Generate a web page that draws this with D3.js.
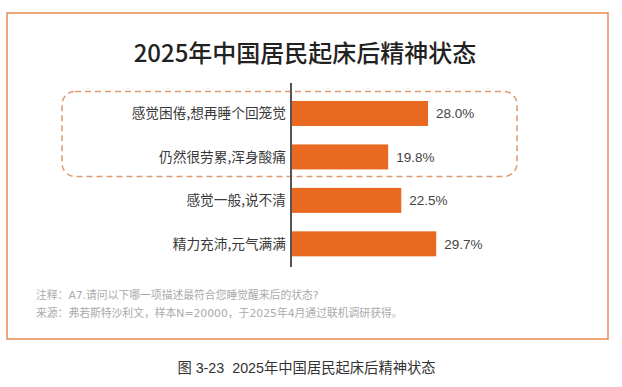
<!DOCTYPE html>
<html>
<head>
<meta charset="utf-8">
<script src="https://cdn.jsdelivr.net/npm/d3@7"></script>
<style>
  html, body { margin: 0; padding: 0; background: #fff; }
  svg { display: block; font-family: "Noto Sans CJK SC", "Noto Sans", sans-serif; }
  .cat-label { font-size: 13.7px; fill: #3a3a3a; }
  .val-label { font-size: 13.5px; fill: #444; font-family: "Liberation Sans", Arial, sans-serif; }
  .note { font-size: 10.8px; fill: #aaa; font-family: "DejaVu Sans", "Noto Sans CJK SC", sans-serif; }
  .caption { white-space: pre; font-family: "Liberation Sans", "Noto Sans CJK SC", sans-serif; }
</style>
</head>
<body>
<svg id="chart" width="622" height="387"></svg>
<script>
// data
var categories = ["感觉困倦,想再睡个回笼觉", "仍然很劳累,浑身酸痛", "感觉一般,说不清", "精力充沛,元气满满"];
var values = [28.0, 19.8, 22.5, 29.7];
var valueLabels = ["28.0%", "19.8%", "22.5%", "29.7%"];
var highlighted = ["感觉困倦,想再睡个回笼觉", "仍然很劳累,浑身酸痛"];

var title = "2025年中国居民起床后精神状态";
var notes = [
  "注释：A7.请问以下哪一项描述最符合您睡觉醒来后的状态?",
  "来源：弗若斯特沙利文，样本N=20000，于2025年4月通过联机调研获得。"
];
var caption = "图 3-23  2025年中国居民起床后精神状态";

var Config = {
  FrameX: 7, FrameY: 13, FrameW: 601, FrameH: 326,
  AxisX: 291,
  BarStart: 292,
  BandTop: 82.5, BandBottom: 274.8,
  Padding: 0.425,
  BarColor: "#e8691f",
  FrameColor: "#e88a50",
  DashColor: "#dc9a70"
};

var svg = d3.select("#chart");

// outer frame
svg.append("rect")
  .attr("x", Config.FrameX)
  .attr("y", Config.FrameY)
  .attr("width", Config.FrameW)
  .attr("height", Config.FrameH)
  .attr("fill", "none")
  .attr("stroke", Config.FrameColor)
  .attr("stroke-width", 1.5);

// title
svg.append("text")
  .attr("x", 305)
  .attr("y", 62)
  .attr("text-anchor", "middle")
  .style("font-size", "24px")
  .style("font-weight", "500")
  .attr("fill", "#222")
  .text(title);

var x = d3.scaleLinear().domain([0, 30]).range([Config.BarStart, Config.BarStart + 145.7]);
var y = d3.scaleBand().domain(categories)
  .range([Config.BandTop, Config.BandBottom])
  .paddingInner(Config.Padding)
  .paddingOuter(Config.Padding);

// dashed highlight box round the first two rows
var hTop = y(highlighted[0]) - 9.5;
var hBottom = y(highlighted[highlighted.length - 1]) + y.bandwidth() + 7;
svg.append("rect")
  .attr("x", 62)
  .attr("y", hTop)
  .attr("width", 455)
  .attr("height", hBottom - hTop)
  .attr("rx", 13)
  .attr("fill", "none")
  .attr("stroke", Config.DashColor)
  .attr("stroke-width", 1.5)
  .attr("stroke-dasharray", "6,4");

// bars
svg.selectAll(".bar")
  .data(values)
  .enter()
  .append("rect")
  .attr("class", "bar")
  .attr("x", x(0))
  .attr("y", function (d, i) { return y(categories[i]); })
  .attr("width", function (d) { return x(d) - x(0); })
  .attr("height", y.bandwidth())
  .attr("fill", Config.BarColor);

// category labels
svg.selectAll(".cat-label")
  .data(categories)
  .enter()
  .append("text")
  .attr("class", "cat-label")
  .attr("x", Config.AxisX - 5)
  .attr("y", function (d) { return y(d) + y.bandwidth() / 2; })
  .attr("dy", "0.36em")
  .attr("text-anchor", "end")
  .text(function (d) { return d; });

// value labels
svg.selectAll(".val-label")
  .data(values)
  .enter()
  .append("text")
  .attr("class", "val-label")
  .attr("x", function (d) { return x(d) + 8; })
  .attr("y", function (d, i) { return y(categories[i]) + y.bandwidth() / 2; })
  .attr("dy", "0.36em")
  .text(function (d, i) { return valueLabels[i]; });

// vertical axis line
svg.append("line")
  .attr("x1", Config.AxisX)
  .attr("x2", Config.AxisX)
  .attr("y1", 83)
  .attr("y2", 267)
  .attr("stroke", "#555")
  .attr("stroke-width", 2);

// notes
svg.selectAll(".note")
  .data(notes)
  .enter()
  .append("text")
  .attr("class", "note")
  .attr("x", 36)
  .attr("y", function (d, i) { return 299 + i * 17.5; })
  .text(function (d) { return d; });

// caption under the frame
svg.append("text")
  .attr("class", "caption")
  .attr("x", 306.5)
  .attr("y", 372.5)
  .attr("text-anchor", "middle")
  .style("font-size", "14.3px")
  .attr("fill", "#333")
  .text(caption);
</script>
</body>
</html>
